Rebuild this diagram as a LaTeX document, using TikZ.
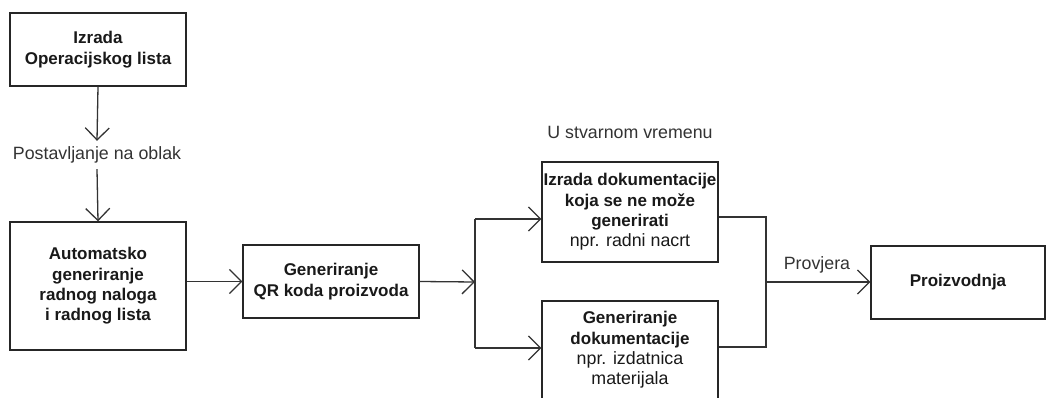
\documentclass[tikz,border=0pt]{standalone}
\usepackage{fontspec}
\setmainfont{Liberation Sans}
\usetikzlibrary{arrows.meta}
\newcommand{\rg}{\fontsize{17.8}{20.3}\selectfont\mdseries}
\begin{document}
\begin{tikzpicture}[x=1pt,y=-1pt,
  box/.style={draw=black!85, line width=1.3pt, minimum width=176pt, align=center,
    inner sep=0pt, font=\fontsize{17}{20.3}\selectfont\bfseries, text=black!90},
  lbl/.style={align=center, inner sep=0pt, font=\rg, text=black!80},
  conn/.style={draw=black!80, line width=1.3pt},
  arr/.style={conn, -{Straight Barb[length=12pt,width=24pt,line width=1.3pt]}}]
\clip (0,0) rectangle (1046,398);
\useasboundingbox (0,0) rectangle (1046,398);
\node[box, minimum height=73pt] (op) at (98,49.5) {Izrada\\Operacijskog lista};
\node[lbl, minimum height=28pt] (cloud) at (97,155) {Postavljanje na oblak};
\node[box, minimum height=128pt] (auto) at (98,286) {Automatsko\\generiranje\\radnog naloga\\i radnog lista};
\node[box, minimum height=73pt] (qr) at (331,281.5) {Generiranje\\QR koda proizvoda};
\node[box, minimum height=100pt] (ruc) at (630,212) {Izrada dokumentacije\\koja se ne može\\generirati\\{\rg npr. radni nacrt}};
\node[box, minimum height=98pt] (gen) at (630,350) {Generiranje\\dokumentacije\\{\rg npr. izdatnica}\\{\rg materijala}};
\node[box, minimum height=73pt, minimum width=174pt] (pro) at (958,282.5) {Proizvodnja};
\node[lbl] (rt) at (630,132) {U stvarnom vremenu};
\node[lbl] (prov) at (817,265) {Provjera};
\coordinate (split) at (475,282);
\coordinate (sTop) at (475,219);
\coordinate (sBot) at (475,348);
\coordinate (jTop) at (766,217);
\coordinate (jBot) at (766,347);
\coordinate (join) at (766,282);
\draw[arr] (op.south) -- (cloud.north);
\draw[arr] (cloud.south) -- (auto.north);
\draw[arr] (auto.east |- qr.west) -- (qr.west);
\draw[arr] (qr.east) -- (split);
\draw[conn] (sTop) -- (sBot);
\draw[arr] (sTop) -- (ruc.west |- sTop);
\draw[arr] (sBot) -- (gen.west |- sBot);
\draw[conn] (ruc.east |- jTop) -- (jTop) -- (jBot) -- (gen.east |- jBot);
\draw[arr] (join) -- (pro.west |- join);
\end{tikzpicture}
\end{document}
